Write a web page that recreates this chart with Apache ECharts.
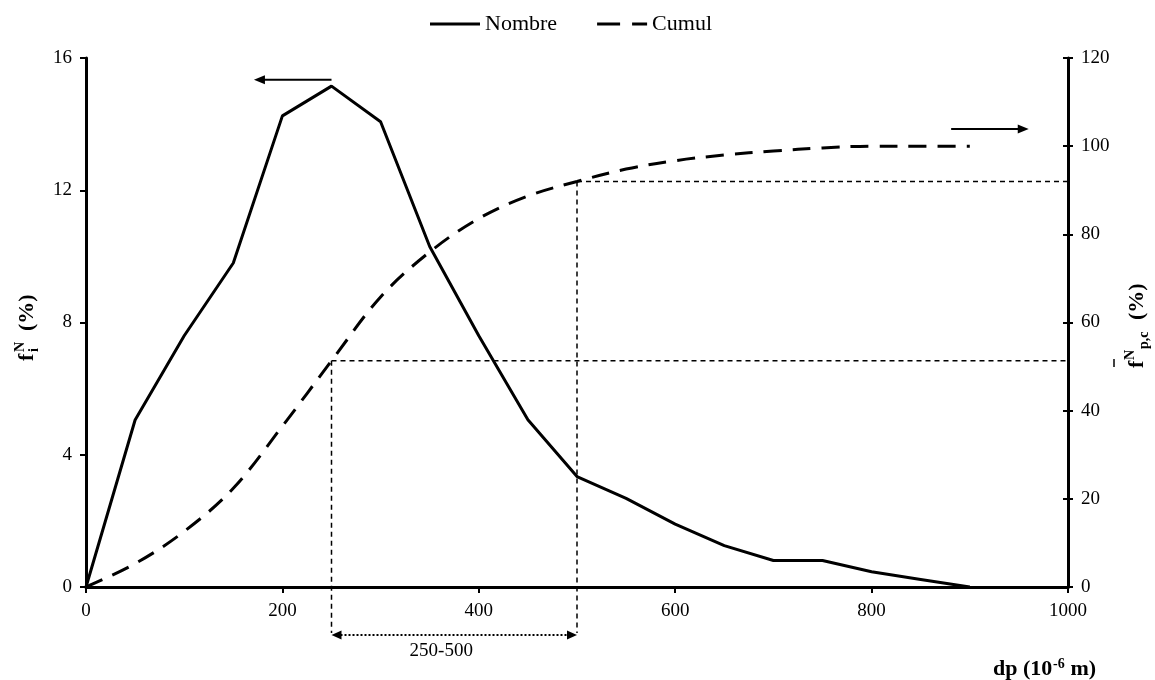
<!DOCTYPE html>
<html>
<head>
<meta charset="utf-8">
<script src="https://cdn.jsdelivr.net/npm/echarts@6/dist/echarts.min.js"></script>
<style>
  html, body { margin: 0; padding: 0; background: #fff; }
  #main { width: 1155px; height: 680px; }
</style>
</head>
<body>
<div id="main"></div>
<script>
// diamètre des particules (10^-6 m)
var dp = [0, 50, 100, 150, 200, 250, 300, 350, 400, 450, 500, 550, 600, 650, 700, 750, 800, 850, 900];
// fréquence en nombre (%) - axe gauche
var nombre = [0, 5.05, 7.6, 9.8, 14.25, 15.15, 14.07, 10.3, 7.6, 5.06, 3.34, 2.68, 1.9, 1.25, 0.8, 0.8, 0.46, 0.23, 0];
// cumul (%) - axe droit
var cumul = [0, 5.3, 12.6, 22.4, 36.5, 51.3, 65.8, 76.0, 83.6, 88.7, 92.0, 94.8, 96.7, 98.0, 98.9, 99.6, 100, 100, 100];

var xTicks = [0, 200, 400, 600, 800, 1000];
var leftTicks = [0, 4, 8, 12, 16];
var rightTicks = [0, 20, 40, 60, 80, 100, 120];

// classe 250-500 : indices des points sur la courbe cumulée
var classIdx = [5, 10];
// flèches indiquant l'axe de chaque courbe [x début, x fin, y, axe]
var arrows = [
  [250, 171, 15.34, 0],
  [881, 960, 103.9, 1]
];

var FONT = '"Liberation Serif", "Times New Roman", serif';

function pairs(xs, ys) {
  return xs.map(function (x, i) { return [x, ys[i]]; });
}

function step(t) { return t[1] - t[0]; }

var myChart = echarts.init(document.getElementById('main'));

var labelStyle = { fontFamily: FONT, fontSize: 19, color: '#000' };

myChart.setOption({
  animation: false,
  legend: {
    left: 425,
    top: 8,
    itemWidth: 50,
    itemHeight: 3,
    itemGap: 40,
    textStyle: { fontFamily: FONT, fontSize: 22, color: '#000' },
    data: [
      { name: 'Nombre', icon: 'rect', itemStyle: { color: '#000' } },
      { name: 'Cumul', icon: 'path://M0,0H23V3H0Z M35,0H50V3H35Z', itemStyle: { color: '#000' } }
    ]
  },
  grid: { left: 86, right: 87, top: 58, bottom: 93 },
  xAxis: {
    type: 'value',
    min: xTicks[0],
    max: xTicks[xTicks.length - 1],
    interval: step(xTicks),
    axisLine: { lineStyle: { color: '#000', width: 3 } },
    axisTick: { length: 6, lineStyle: { color: '#000', width: 2 } },
    axisLabel: Object.assign({ margin: 15, formatter: function (v) { return String(v); } }, labelStyle),
    splitLine: { show: false }
  },
  yAxis: [
    {
      type: 'value',
      position: 'left',
      min: leftTicks[0],
      max: leftTicks[leftTicks.length - 1],
      interval: step(leftTicks),
      axisLine: { show: true, lineStyle: { color: '#000', width: 3 } },
      axisTick: { show: true, length: 6, lineStyle: { color: '#000', width: 2 } },
      axisLabel: Object.assign({ margin: 14 }, labelStyle),
      splitLine: { show: false }
    },
    {
      type: 'value',
      position: 'right',
      min: rightTicks[0],
      max: rightTicks[rightTicks.length - 1],
      interval: step(rightTicks),
      axisLine: { show: true, lineStyle: { color: '#000', width: 3 } },
      axisTick: { show: true, length: 5, lineStyle: { color: '#000', width: 2 } },
      axisLabel: Object.assign({ margin: 13 }, labelStyle),
      splitLine: { show: false }
    },
    {
      // graduations intérieures de l'axe droit (traits croisés)
      type: 'value',
      position: 'right',
      min: rightTicks[0],
      max: rightTicks[rightTicks.length - 1],
      interval: step(rightTicks),
      axisLine: { show: false },
      axisTick: { show: true, inside: true, length: 5, lineStyle: { color: '#000', width: 2 } },
      axisLabel: { show: false },
      splitLine: { show: false }
    }
  ],
  series: [
    {
      name: 'Nombre',
      type: 'line',
      yAxisIndex: 0,
      data: pairs(dp, nombre),
      symbol: 'none',
      color: '#000',
      lineStyle: { color: '#000', width: 3 },
      z: 3
    },
    {
      name: 'Cumul',
      type: 'line',
      yAxisIndex: 1,
      data: pairs(dp, cumul),
      smooth: 0.35,
      symbol: 'none',
      color: '#000',
      lineStyle: { color: '#000', width: 3, type: [18, 11] },
      z: 3
    }
  ]
});

// ---- annotations ----
function px(axis, x, y) {
  return myChart.convertToPixel({ xAxisIndex: 0, yAxisIndex: axis }, [x, y]);
}

function head(tip, dir, len, half) {
  // triangle plein, dir = +1 vers la droite, -1 vers la gauche
  return {
    type: 'polygon',
    shape: { points: [[tip[0], tip[1]], [tip[0] - dir * len, tip[1] - half], [tip[0] - dir * len, tip[1] + half]] },
    style: { fill: '#000' },
    z: 10
  };
}

var g = [];
var xRight = px(0, 1000, 0)[0];
var yBottom = px(0, 0, 0)[1];
var yDrop = yBottom + 46;
var dash = { stroke: '#000', lineWidth: 1.5, lineDash: [5, 4] };
var corners = classIdx.map(function (i) { return px(1, dp[i], cumul[i]); });

corners.forEach(function (c) {
  g.push({ type: 'line', shape: { x1: c[0], y1: c[1], x2: xRight, y2: c[1] }, style: dash, z: 5 });
  g.push({ type: 'line', shape: { x1: c[0], y1: c[1], x2: c[0], y2: yDrop }, style: dash, z: 5 });
});

// flèche double pointillée 250-500
var yA = yDrop + 2;
g.push({ type: 'line', shape: { x1: corners[0][0] + 9, y1: yA, x2: corners[1][0] - 9, y2: yA },
  style: { stroke: '#000', lineWidth: 2, lineDash: [2, 2] }, z: 5 });
g.push(head([corners[0][0], yA], -1, 10, 4.5));
g.push(head([corners[1][0], yA], 1, 10, 4.5));
g.push({ type: 'text', x: (corners[0][0] + corners[1][0]) / 2 - 13, y: yA + 16,
  style: { text: dp[classIdx[0]] + '-' + dp[classIdx[1]], font: '19px ' + FONT, fill: '#000',
    textAlign: 'center', textVerticalAlign: 'middle' }, z: 5 });

arrows.forEach(function (a) {
  var p1 = px(a[3], a[0], a[2]);
  var p2 = px(a[3], a[1], a[2]);
  var dir = p2[0] > p1[0] ? 1 : -1;
  g.push({ type: 'line', shape: { x1: p1[0], y1: p1[1], x2: p2[0] - dir * 8, y2: p2[1] },
    style: { stroke: '#000', lineWidth: 2 }, z: 5 });
  g.push(head(p2, dir, 11, 4.5));
});

// titres des axes
var bold = function (size) { return 'bold ' + size + 'px ' + FONT; };
function txt(x, y, s, size) {
  return { type: 'text', x: x, y: y, style: { text: s, font: bold(size), fill: '#000',
    textAlign: 'left', textVerticalAlign: 'bottom' } };
}
g.push({
  type: 'group', x: 33, y: 325, rotation: Math.PI / 2,
  children: [
    txt(-36, 5, 'f', 22),
    txt(-27, -6, 'N', 14),
    txt(-27, 8, 'i', 14),
    txt(-6, 5, '(%)', 22)
  ]
});
g.push({
  type: 'group', x: 1143, y: 325, rotation: Math.PI / 2,
  children: [
    txt(-43, 5, 'f', 22),
    txt(-35, -6, 'N', 14),
    txt(-24, 8, 'p,c', 14),
    txt(5, 5, '(%)', 22),
    { type: 'line', shape: { x1: -42, y1: -29, x2: -34, y2: -29 }, style: { stroke: '#000', lineWidth: 1.5 } }
  ]
});
g.push({
  type: 'group', x: 993, y: 680,
  children: [
    txt(0, 0, 'dp (10', 22),
    txt(60, -9, '-6', 14),
    txt(72, 0, ' m)', 22)
  ]
});

myChart.setOption({ graphic: g });
</script>
</body>
</html>
